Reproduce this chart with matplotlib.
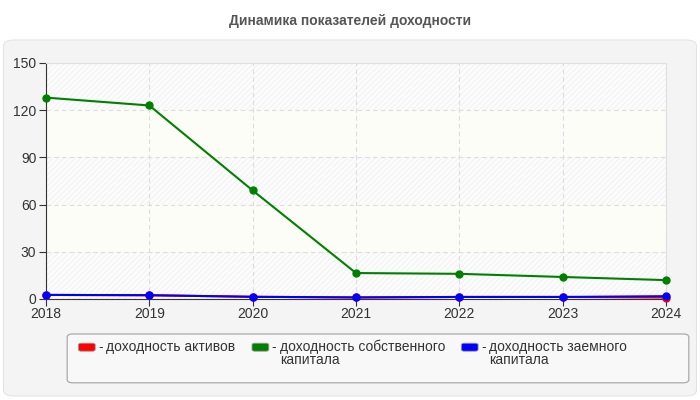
import matplotlib.pyplot as plt
from matplotlib.patches import FancyBboxPatch, Rectangle

years = [2018, 2019, 2020, 2021, 2022, 2023, 2024]
assets = [2.6, 2.4, 1.4, 1.0, 1.3, 1.3, 0.9]
equity = [128, 123, 69, 16.5, 16, 14, 12]
borrowed = [2.6, 2.4, 1.4, 1.0, 1.3, 1.3, 1.8]

series_labels = ["доходность активов", "доходность собственного\nкапитала",
                 "доходность заемного\nкапитала"]
series_colors = ["#ff0000", "#008000", "#0000ff"]
yticks = [0, 30, 60, 90, 120, 150]
title = "Динамика показателей доходности"

plt.rcParams["font.family"] = ["Liberation Sans", "DejaVu Sans"]
plt.rcParams["hatch.linewidth"] = 0.6

fig = plt.figure(figsize=(7, 4), dpi=100)
fig.patch.set_facecolor("white")

# rounded panel behind the chart
panel = FancyBboxPatch((0.005, 0.01), 0.99, 0.89, boxstyle="round,pad=0,rounding_size=0.015",
                       transform=fig.transFigure, facecolor="#f4f4f4",
                       edgecolor="#e4e4e4", linewidth=0.8, zorder=-5)
fig.patches.append(panel)

fig.text(0.5, 0.948, title, ha="center", va="center", fontsize=10,
         fontweight="bold", color="#555555")

ax = fig.add_axes([0.0657, 0.2525, 0.8857, 0.59])
ax.set_zorder(5)
ax.set_facecolor("white")

# alternating bands: hatched / plain cream
for i in range(len(yticks) - 1):
    lo, hi = yticks[i], yticks[i + 1]
    if i % 2 == 0:
        ax.add_patch(Rectangle((years[0], lo), years[-1] - years[0], hi - lo,
                               facecolor="#fcfcfc", edgecolor="#f0f0f0",
                               hatch="//////", linewidth=0, zorder=0))
    else:
        ax.add_patch(Rectangle((years[0], lo), years[-1] - years[0], hi - lo,
                               facecolor="#fdfdf8", edgecolor="none", zorder=0))

for vals, col in zip([assets, equity, borrowed], series_colors):
    ax.plot(years, vals, color=col, lw=1.5, marker="o", markersize=5,
            zorder=3, clip_on=False)

ax.set_xlim(years[0], years[-1])
ax.set_ylim(0, 150)
ax.set_xticks(years)
ax.set_yticks(yticks)
ax.grid(True, color="#dddddd", linestyle=(0, (4, 3)), linewidth=0.8, zorder=1)
ax.set_axisbelow(True)
for s in ["top", "right"]:
    ax.spines[s].set_color("#e0e0e0")
for s in ["left", "bottom"]:
    ax.spines[s].set_color("#333333")
ax.tick_params(axis="both", labelsize=10, colors="#333333", length=5, width=0.8)
ax.tick_params(axis="y", pad=2)
ax.tick_params(axis="x", pad=1)

# legend box
lbox = FancyBboxPatch((0.096, 0.043), 0.888, 0.122, boxstyle="round,pad=0,rounding_size=0.008",
                      transform=fig.transFigure, facecolor="#f8f8f8",
                      edgecolor="#aaaaaa", linewidth=0.9, zorder=2)
fig.patches.append(lbox)
lx = [0.112, 0.36, 0.659]
for x, lab, col in zip(lx, series_labels, series_colors):
    fig.patches.append(FancyBboxPatch((x, 0.122), 0.024, 0.02,
                                      boxstyle="round,pad=0,rounding_size=0.004",
                                      transform=fig.transFigure, facecolor=col,
                                      edgecolor="#999999", linewidth=0.6, zorder=3))
    fig.text(x + 0.028, 0.151, "-", fontsize=10, color="#333333", va="top")
    fig.text(x + 0.04, 0.151, lab, fontsize=10, color="#333333", va="top",
             linespacing=0.95)

fig.savefig("out.png", dpi=100)
